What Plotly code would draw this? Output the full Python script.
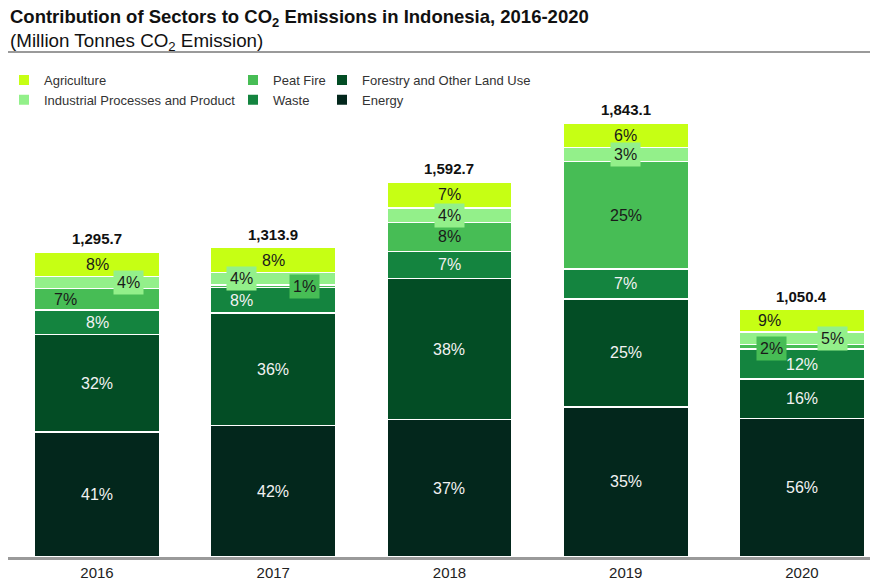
import plotly.graph_objects as go

# Emissions by sector, million tonnes CO2
years = ["2016", "2017", "2018", "2019", "2020"]
energy = [531.2, 557.5, 582.9, 637.7, 588.2]
forestry = [414.6, 478.9, 600.4, 458.9, 168.1]
waste = [103.7, 107.0, 114.7, 127.2, 126.0]
peat_fire = [90.7, 12.0, 122.6, 455.2, 21.0]
industrial = [51.8, 52.0, 62.1, 59.0, 52.5]
agriculture = [103.7, 106.5, 110.0, 105.1, 94.6]

# Stacked bottom to top
sectors = [
    ("Energy", energy, "#03271c", "#f2f2f2"),
    ("Forestry and Other Land Use", forestry, "#034d25", "#f2f2f2"),
    ("Waste", waste, "#14843f", "#f2f2f2"),
    ("Peat Fire", peat_fire, "#47bd55", "#1a1a1a"),
    ("Industrial Processes and Product", industrial, "#93f08a", "#1a1a1a"),
    ("Agriculture", agriculture, "#c6ff14", "#1a1a1a"),
]

# Which legend column each sector goes into
legend_slot = {
    "Agriculture": ("legend", 1),
    "Industrial Processes and Product": ("legend", 2),
    "Peat Fire": ("legend2", 1),
    "Waste": ("legend2", 2),
    "Forestry and Other Land Use": ("legend3", 1),
    "Energy": ("legend3", 2),
}

# Nudges (pixels) for labels of thin segments
label_shift = {
    ("2016", "Peat Fire"): (-32, 0),
    ("2016", "Industrial Processes and Product"): (31, 0),
    ("2017", "Waste"): (-32, 0),
    ("2017", "Peat Fire"): (31, 0),
    ("2017", "Industrial Processes and Product"): (-32, 0),
    ("2020", "Agriculture"): (-32, 0),
    ("2020", "Peat Fire"): (-30, -2),
    ("2020", "Industrial Processes and Product"): (31, 0),
}

totals = [sum(vals) for vals in zip(*[s[1] for s in sectors])]

fig = go.Figure()
for name, vals, color, _ in sectors:
    leg, rank = legend_slot[name]
    fig.add_trace(go.Bar(
        x=years, y=vals, name=name,
        marker=dict(color=color, line=dict(color="#ffffff", width=1.5)),
        legend=leg, legendrank=rank,
        hovertemplate="%{x}: %{y:.1f}<extra>" + name + "</extra>",
    ))

annotations = []
base = [0.0] * len(years)
for name, vals, color, txtcolor in sectors:
    for i, yr in enumerate(years):
        pct = round(vals[i] / totals[i] * 100)
        dx, dy = label_shift.get((yr, name), (0, 0))
        # thin segments get a filled tag so the label stays readable
        boxed = pct <= 5
        annotations.append(dict(
            x=i, y=base[i] + vals[i] / 2, xref="x", yref="y",
            text=f"{pct}%", showarrow=False,
            font=dict(size=16, color=txtcolor),
            bgcolor=color if boxed else "rgba(0,0,0,0)", borderpad=3,
            xshift=dx, yshift=dy,
        ))
        base[i] += vals[i]

for i, tot in enumerate(totals):
    annotations.append(dict(
        x=i, y=tot, xref="x", yref="y", text=f"<b>{tot:,.1f}</b>",
        showarrow=False, yanchor="bottom", yshift=3,
        font=dict(size=15, color="#111111"),
    ))

W, H = 877, 580
ml, mr, mt, mb = 8, 7, 115, 23
plot_h = H - mt - mb


def py(pixel_y):
    return (H - mb - pixel_y) / plot_h


def px(pixel_x):
    return (pixel_x - ml) / (W - ml - mr)


# Title block
annotations.append(dict(
    x=0, y=py(18), xref="paper", yref="paper", xanchor="left", yanchor="middle",
    text="<b>Contribution of Sectors to CO<sub>2</sub> Emissions in Indonesia, 2016-2020</b>",
    showarrow=False, font=dict(size=18.5, color="#111111"),
))
annotations.append(dict(
    x=0, y=py(42), xref="paper", yref="paper", xanchor="left", yanchor="middle",
    text="(Million Tonnes CO<sub>2</sub> Emission)",
    showarrow=False, font=dict(size=18.8, color="#111111"),
))

legend_common = dict(
    orientation="v", yanchor="top", xanchor="left", traceorder="normal",
    font=dict(size=13, color="#333333"), bgcolor="rgba(0,0,0,0)",
    tracegroupgap=0, itemsizing="constant",
)

fig.update_layout(
    width=W, height=H,
    margin=dict(l=ml, r=mr, t=mt, b=mb, autoexpand=False),
    barmode="stack", bargap=0.29,
    plot_bgcolor="white", paper_bgcolor="white",
    font=dict(family="Liberation Sans, Arial, sans-serif", color="#222222"),
    xaxis=dict(
        type="category", range=[-0.505, 4.386],
        showline=True, linecolor="#9a9a9a", linewidth=3,
        ticks="", tickfont=dict(size=15, color="#222222"),
        showgrid=False, zeroline=False, fixedrange=True,
    ),
    yaxis=dict(
        range=[0, plot_h / 0.2355], visible=False, showgrid=False,
        zeroline=False, fixedrange=True,
    ),
    legend=dict(x=px(4), y=py(65), **legend_common),
    legend2=dict(x=px(233), y=py(65), **legend_common),
    legend3=dict(x=px(322), y=py(65), **legend_common),
    annotations=annotations,
    shapes=[dict(
        type="line", xref="paper", yref="paper",
        x0=0, x1=1, y0=py(52), y1=py(52),
        line=dict(color="#9a9a9a", width=2),
    )],
)

fig.write_html("out.html")
